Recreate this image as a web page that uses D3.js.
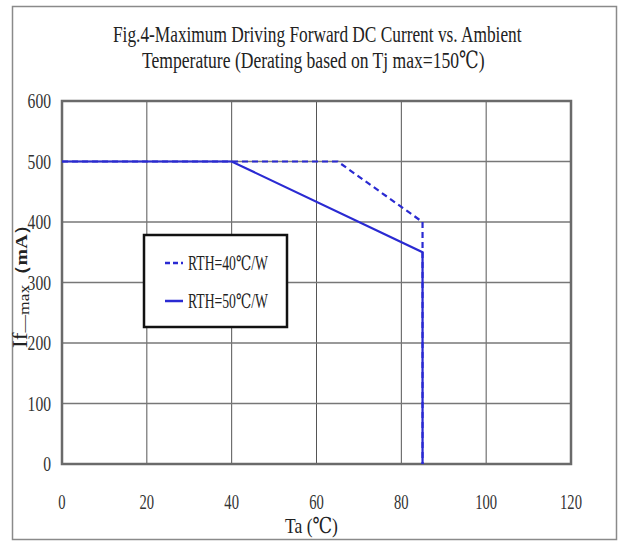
<!DOCTYPE html>
<html><head><meta charset="utf-8">
<script src="https://cdn.jsdelivr.net/npm/d3@7"></script>
<style>body{margin:0;background:#fff}svg{display:block}</style>
</head><body>
<script>
const titleLines = ["Fig.4-Maximum Driving Forward DC Current vs. Ambient", "Temperature (Derating based on Tj max=150\u2103)"];
const xTicks = [0, 20, 40, 60, 80, 100, 120];
const yTicks = [0, 100, 200, 300, 400, 500, 600];
const seriesNames = ["RTH=40\u2103/W", "RTH=50\u2103/W"];
const rth40 = [[0, 500], [65, 500], [85, 400], [85, 0]];
const rth50 = [[0, 500], [40, 500], [85, 350], [85, 0]];
const xTitle = "Ta (\u2103)";

const W = 627, H = 542;
const svg = d3.select("body").append("svg").attr("width", W).attr("height", H);
const font = "'Liberation Serif', 'DejaVu Serif', serif";
const blue = "#2a2ad2";

function fitText(parent, str, x, y, w, size, anchor, fill) {
  const g = parent.append("g");
  const t = g.append("text").attr("x", 0).attr("y", 0)
    .style("font-family", font).style("font-size", size + "px").attr("fill", fill || "#222").text(str);
  const nat = t.node().getComputedTextLength();
  const s = w / nat;
  let x0 = x;
  if (anchor === "middle") x0 = x - w / 2;
  if (anchor === "end") x0 = x - w;
  g.attr("transform", `translate(${x0},${y}) scale(${s},1)`);
  return t;
}

// outer frame
svg.append("rect").attr("x", 12.5).attr("y", 6.5).attr("width", 604).attr("height", 533)
  .attr("fill", "none").attr("stroke", "#8a8a8a").attr("stroke-width", 1.5);

// title
fitText(svg, titleLines[0], 113, 42, 409, 24, "start");
fitText(svg, titleLines[1], 142, 68, 343, 24, "start");

const x = d3.scaleLinear().domain([0, 120]).range([62, 571]);
const y = d3.scaleLinear().domain([0, 600]).range([464, 101]);

// grid
svg.append("g").selectAll("line").data(xTicks.slice(1, -1)).join("line")
  .attr("x1", d => x(d)).attr("x2", d => x(d)).attr("y1", y(600)).attr("y2", y(0))
  .attr("stroke", "#555").attr("stroke-width", 1);
svg.append("g").selectAll("line").data(yTicks.slice(1, -1)).join("line")
  .attr("x1", x(0)).attr("x2", x(120)).attr("y1", d => y(d)).attr("y2", d => y(d))
  .attr("stroke", "#777").attr("stroke-width", 1.5);
svg.append("rect").attr("x", x(0)).attr("y", y(600)).attr("width", x(120) - x(0)).attr("height", y(0) - y(600))
  .attr("fill", "none").attr("stroke", "#6a6a6a").attr("stroke-width", 2.5);

// tick labels
const xl = svg.append("g");
xTicks.forEach(d => fitText(xl, String(d), x(d), y(0) + 45, String(d).length * 7.3, 22, "middle", "#333"));
const yl = svg.append("g");
yTicks.forEach(d => fitText(yl, String(d), x(0) - 11, y(d) + 7, String(d).length * 7.8, 22, "end", "#333"));

// x title
fitText(svg, xTitle, 285, 533, 53, 22, "start");

// y title
const ytg = svg.append("g");
const yt = ytg.append("text").attr("x", 0).attr("y", 0)
  .style("font-family", font).style("font-size", "20px").attr("fill", "#222");
yt.append("tspan").text("If");
yt.append("tspan").style("font-size", "15px").attr("dy", 2).text("\u2014max");
yt.append("tspan").attr("dy", -2).style("font-weight", "bold").style("font-size", "17px").text("\uff08mA\uff09");
const ytLen = yt.node().getComputedTextLength();
ytg.attr("transform", `translate(27,348) rotate(-90) scale(${134 / ytLen},1)`);

// lines
const line = d3.line().x(d => x(d[0])).y(d => y(d[1]));
svg.append("path").datum(rth50).attr("d", line).attr("fill", "none")
  .attr("stroke", blue).attr("stroke-width", 2.2);
svg.append("path").datum(rth40).attr("d", line).attr("fill", "none")
  .attr("stroke", blue).attr("stroke-width", 2.2).attr("stroke-dasharray", "6,4");

// legend
const lg = svg.append("g");
lg.append("rect").attr("x", 144).attr("y", 235).attr("width", 143).attr("height", 92)
  .attr("fill", "#fff").attr("stroke", "#111").attr("stroke-width", 2.5);
const items = [{n: seriesNames[0], dash: "5,3", cy: 263}, {n: seriesNames[1], dash: null, cy: 301}];
items.forEach(it => {
  lg.append("line").attr("x1", 165).attr("x2", 183).attr("y1", it.cy).attr("y2", it.cy)
    .attr("stroke", blue).attr("stroke-width", 2.5).attr("stroke-dasharray", it.dash);
  fitText(lg, it.n, 188, it.cy + 7, 80, 20, "start");
});
</script>
</body></html>
